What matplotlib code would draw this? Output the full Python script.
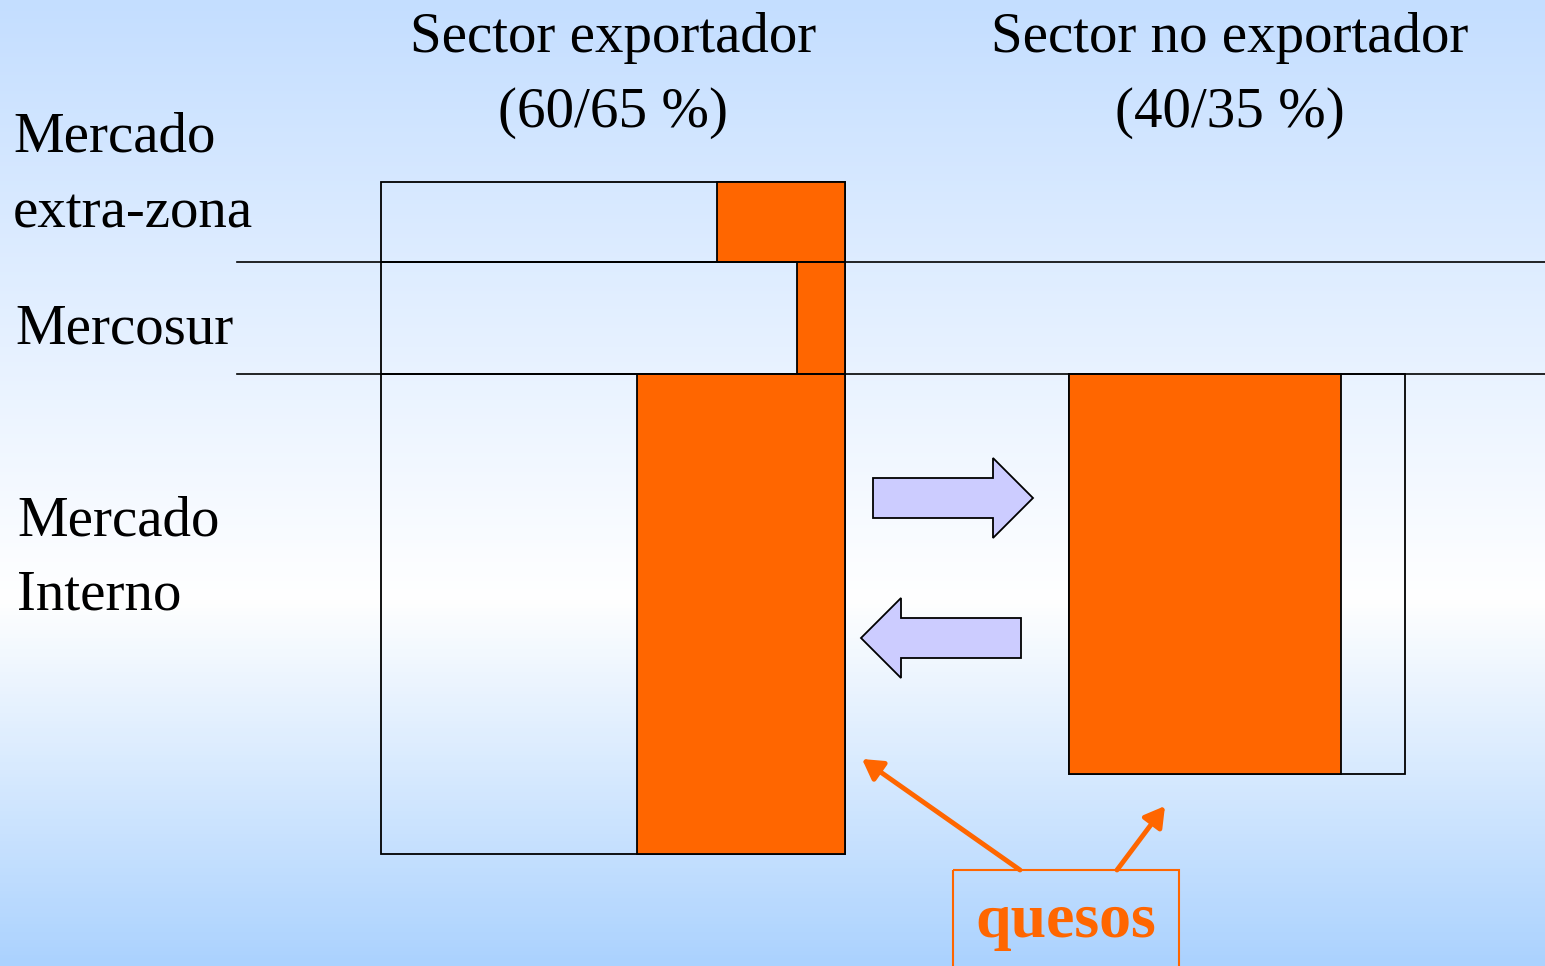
import numpy as np
import matplotlib
matplotlib.use("Agg")
import matplotlib.pyplot as plt
from matplotlib.patches import Rectangle, Polygon, FancyArrowPatch
from matplotlib.colors import LinearSegmentedColormap

# ---- data ----
sector_titles = ["Sector exportador", "Sector no exportador"]
sector_shares = ["(60/65 %)", "(40/35 %)"]
market_labels = ["Mercado\nextra-zona", "Mercosur", "Mercado\nInterno"]
# exporter sector: size of each market (height units) and cheese share of each
exp_market_size = [80, 112, 480]
exp_cheese_share = [0.276, 0.103, 0.448]
# non-exporter sector (domestic market only)
nonexp_market_size = 400
nonexp_cheese_share = 0.81
callout_label = "quesos"

ORANGE = "#ff6600"
W, H = 1545, 966
fig = plt.figure(figsize=(W / 100, H / 100), dpi=100)
ax = fig.add_axes([0, 0, 1, 1])
ax.set_xlim(0, W)
ax.set_ylim(H, 0)
ax.axis("off")

# background gradient
cmap = LinearSegmentedColormap.from_list(
    "bg", [(0, "#c4deff"), (0.62, "#ffffff"), (1.0, "#abd2fe")])
grad = np.linspace(0, 1, 256).reshape(-1, 1)
ax.imshow(grad, cmap=cmap, extent=[0, W, H, 0], aspect="auto", zorder=0)

serif = ["Liberation Serif", "DejaVu Serif"]
FS = 41

# titles
title_x = [613, 1230]
for tx, t, s in zip(title_x, sector_titles, sector_shares):
    ax.text(tx, 52, t, ha="center", va="baseline", fontsize=FS, family=serif)
    ax.text(tx, 127, s, ha="center", va="baseline", fontsize=FS, family=serif)

# row labels
lab_lines = [m.split("\n") for m in market_labels]
ax.text(13, 152, lab_lines[0][0], fontsize=FS, family=serif, va="baseline")
ax.text(13, 228, lab_lines[0][1], fontsize=FS, family=serif, va="baseline")
ax.text(15, 343, lab_lines[1][0], fontsize=FS, family=serif, va="baseline")
ax.text(17, 535, lab_lines[2][0], fontsize=FS, family=serif, va="baseline")
ax.text(17, 610, lab_lines[2][1], fontsize=FS, family=serif, va="baseline")

# exporter sector boxes
ex_left, ex_w = 381, 464
y = 182
for size, share in zip(exp_market_size, exp_cheese_share):
    ax.add_patch(Rectangle((ex_left, y), ex_w, size, facecolor="none",
                           edgecolor="black", lw=1.3, zorder=2))
    ow = ex_w * share
    ax.add_patch(Rectangle((ex_left + ex_w - ow, y), ow, size, facecolor=ORANGE,
                           edgecolor="black", lw=1.3, zorder=3))
    y += size

# separator lines
for ly in [182 + exp_market_size[0], 182 + exp_market_size[0] + exp_market_size[1]]:
    ax.plot([237, W], [ly, ly], color="black", lw=1.2, zorder=4)

# non-exporter box
ne_left, ne_w, ne_top = 1069, 336, 374
ax.add_patch(Rectangle((ne_left, ne_top), ne_w, nonexp_market_size, facecolor="none",
                       edgecolor="black", lw=1.3, zorder=2))
ax.add_patch(Rectangle((ne_left, ne_top), ne_w * nonexp_cheese_share, nonexp_market_size,
                       facecolor=ORANGE, edgecolor="black", lw=1.3, zorder=3))

# block arrows
right_arrow = [(873, 478), (993, 478), (993, 458), (1033, 498), (993, 538), (993, 518), (873, 518)]
left_arrow = [(1021, 618), (901, 618), (901, 598), (861, 638), (901, 678), (901, 658), (1021, 658)]
for pts in (right_arrow, left_arrow):
    ax.add_patch(Polygon(pts, closed=True, facecolor="#ccccff", edgecolor="black",
                         lw=1.3, joinstyle="miter", zorder=3))

# callout box
ax.add_patch(Rectangle((953, 870), 226, 110, facecolor="none", edgecolor=ORANGE,
                       lw=1.5, zorder=3))
ax.text(1066, 937, callout_label, ha="center", va="baseline", fontsize=46,
        fontweight="bold", color=ORANGE, family=serif)

for (x0, y0), (x1, y1) in [((1020, 870), (862, 759)), ((1117, 870), (1165, 806))]:
    ax.add_patch(FancyArrowPatch((x0, y0), (x1, y1), arrowstyle="-|>,head_length=12,head_width=7",
                                 color=ORANGE, lw=3.5, shrinkA=0, shrinkB=0,
                                 mutation_scale=1, zorder=4))

fig.savefig("out.png", dpi=100)
